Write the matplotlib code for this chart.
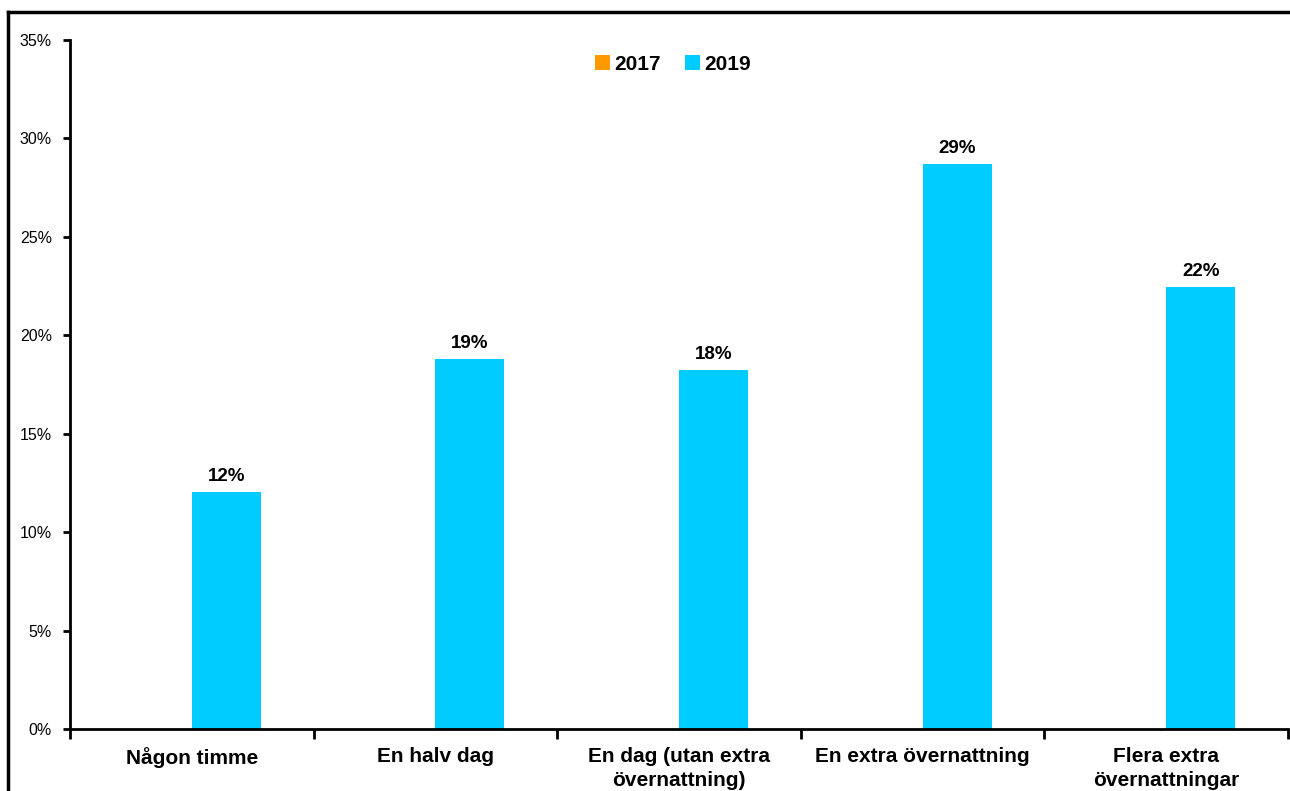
import matplotlib.pyplot as plt
import numpy as np
from matplotlib.ticker import PercentFormatter, FixedLocator
from matplotlib.lines import Line2D

plt.rcParams['font.family'] = ['Liberation Sans', 'DejaVu Sans']

CATEGORIES = ["Någon timme", "En halv dag", "En dag (utan extra\növernattning)",
              "En extra övernattning", "Flera extra\növernattningar"]
SERIES = ["2017", "2019"]
VALUES_2017 = [0, 0, 0, 0, 0]
VALUES_2019 = [0.1204, 0.1880, 0.1824, 0.2870, 0.2245]
COLORS = ["#FF9900", "#00CCFF"]

fig = plt.figure(figsize=(12.9, 7.91), dpi=100)
ax = fig.add_axes([70 / 1290, 62 / 791, 1218 / 1290, 689 / 791])

x = np.arange(len(CATEGORIES))
w = 0.283
ax.bar(x - w / 2, VALUES_2017, w, color=COLORS[0], label=SERIES[0])
ax.bar(x + w / 2, VALUES_2019, w, color=COLORS[1], label=SERIES[1])

for xi, v in zip(x, VALUES_2019):
    ax.annotate(f"{v * 100:.0f}%", (xi + w / 2, v), xytext=(0, 5),
                textcoords="offset points", ha="center", va="bottom",
                fontsize=13.5, fontweight="bold")

ax.set_xlim(-0.5, len(CATEGORIES) - 0.5)
ax.set_ylim(0, 0.35)
ax.set_yticks(np.arange(0, 0.351, 0.05))
ax.yaxis.set_major_formatter(PercentFormatter(1.0, decimals=0))
ax.tick_params(axis="y", labelsize=11.5, length=5, width=2, pad=8)

# category boundaries as ticks, labels in the middle
ax.xaxis.set_major_locator(FixedLocator(np.arange(-0.5, len(CATEGORIES), 1.0)))
ax.xaxis.set_minor_locator(FixedLocator(x))
ax.set_xticklabels([], minor=False)
ax.set_xticklabels(CATEGORIES, minor=True, fontsize=15, fontweight="bold", linespacing=1.3)
ax.tick_params(axis="x", which="major", length=7, width=2)
ax.tick_params(axis="x", which="minor", length=0, pad=13)

for s in ["top", "right"]:
    ax.spines[s].set_visible(False)
for s in ["left", "bottom"]:
    ax.spines[s].set_linewidth(2)

leg = fig.legend(loc="center", bbox_to_anchor=(673 / 1290, 1 - 64 / 791), ncol=2,
                 frameon=False, prop={"size": 15, "weight": "bold"},
                 handlelength=0.7, handleheight=0.7, handletextpad=0.2,
                 columnspacing=1.2)

# outer frame (top and left visible)
fig.add_artist(Line2D([8 / 1290, 1.0], [1 - 12 / 791, 1 - 12 / 791],
                      color="black", lw=2.5, transform=fig.transFigure))
fig.add_artist(Line2D([8 / 1290, 8 / 1290], [0, 1 - 12 / 791],
                      color="black", lw=2.5, transform=fig.transFigure))

fig.savefig("out.png", dpi=100)
